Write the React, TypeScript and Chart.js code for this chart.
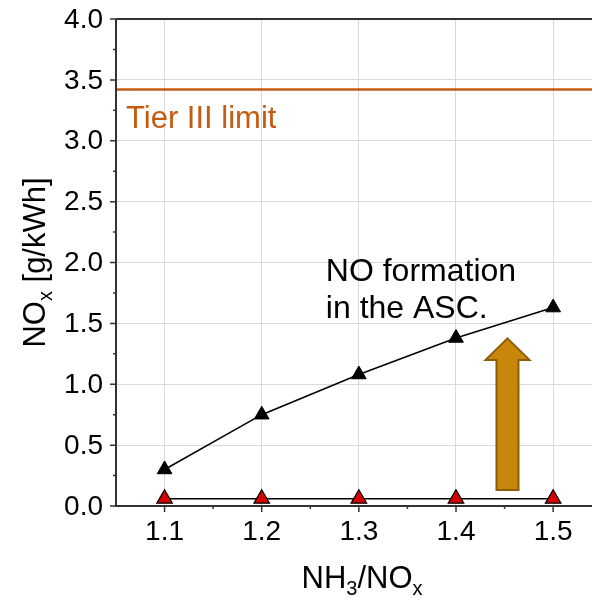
import { useEffect, useRef } from 'react';
import { Chart, registerables } from 'chart.js';

Chart.register(...registerables);

// ---- data ----
const xValues = [1.1, 1.2, 1.3, 1.4, 1.5];
const noFormation = [0.3, 0.75, 1.08, 1.38, 1.63];
const baseLevel = [0.06, 0.06, 0.06, 0.06, 0.06];
const tierIIILimit = 3.42;
const xRange = [1.05, 1.54];
const yRange = [0, 4];
const xMajorTicks = [1.1, 1.2, 1.3, 1.4, 1.5];
const xMinorTicks = [1.15, 1.25, 1.35, 1.45];
const yMajorTicks = [0, 0.5, 1, 1.5, 2, 2.5, 3, 3.5, 4];
const yMinorTicks = [0.25, 0.75, 1.25, 1.75, 2.25, 2.75, 3.25, 3.75];
const xTickLabels = ['1.1', '1.2', '1.3', '1.4', '1.5'];
const yTickLabels = ['0.0', '0.5', '1.0', '1.5', '2.0', '2.5', '3.0', '3.5', '4.0'];

const tierLabel = 'Tier III limit';
const noteLines = ['NO formation', 'in the ASC.'];
const notePos = { x: 1.266, y: 1.85 };
const arrowPos = { x: 1.453, yTip: 1.377, yHeadBase: 1.2, yBottom: 0.131 };
const xTitle: [string, boolean][] = [['NH', false], ['3', true], ['/NO', false], ['x', true]];
const yTitle: [string, boolean][] = [['NO', false], ['x', true], [' [g/kWh]', false]];

const FONT = "'Liberation Sans', Arial, sans-serif";
const TIER_COLOR = '#C55A11';

function drawRich(ctx: CanvasRenderingContext2D, parts: [string, boolean][], size: number) {
  const subSize = Math.round(size * 0.66);
  let total = 0;
  const widths = parts.map(([t, sub]) => {
    ctx.font = `${sub ? subSize : size}px ${FONT}`;
    const w = ctx.measureText(t).width;
    total += w;
    return w;
  });
  let x = -total / 2;
  parts.forEach(([t, sub], i) => {
    ctx.font = `${sub ? subSize : size}px ${FONT}`;
    ctx.fillText(t, x, sub ? size * 0.24 : 0);
    x += widths[i];
  });
}

const customPlugin = {
  id: 'custom',
  afterDraw(chart: any) {
    const { ctx, chartArea, scales } = chart;
    const xs = scales.x;
    const ys = scales.y;
    ctx.save();
    // axis lines
    ctx.strokeStyle = '#333';
    ctx.lineWidth = 2;
    ctx.beginPath();
    ctx.moveTo(chartArea.left, chartArea.top);
    ctx.lineTo(chartArea.left, chartArea.bottom);
    ctx.lineTo(chartArea.right, chartArea.bottom);
    ctx.moveTo(chartArea.left, chartArea.top);
    ctx.lineTo(chartArea.right, chartArea.top);
    ctx.stroke();
    // ticks
    ctx.lineWidth = 1.5;
    ctx.beginPath();
    yMajorTicks.forEach((v) => {
      const y = ys.getPixelForValue(v);
      ctx.moveTo(chartArea.left - 6, y);
      ctx.lineTo(chartArea.left, y);
    });
    yMinorTicks.forEach((v) => {
      const y = ys.getPixelForValue(v);
      ctx.moveTo(chartArea.left - 3, y);
      ctx.lineTo(chartArea.left, y);
    });
    xMajorTicks.forEach((v) => {
      const x = xs.getPixelForValue(v);
      ctx.moveTo(x, chartArea.bottom);
      ctx.lineTo(x, chartArea.bottom + 6);
    });
    xMinorTicks.forEach((v) => {
      const x = xs.getPixelForValue(v);
      ctx.moveTo(x, chartArea.bottom);
      ctx.lineTo(x, chartArea.bottom + 3);
    });
    ctx.stroke();

    // tick labels
    ctx.fillStyle = '#000';
    ctx.font = `28px ${FONT}`;
    ctx.textBaseline = 'middle';
    ctx.textAlign = 'right';
    yMajorTicks.forEach((v, i) => {
      ctx.fillText(yTickLabels[i], chartArea.left - 13, ys.getPixelForValue(v) + 1);
    });
    ctx.textAlign = 'center';
    xMajorTicks.forEach((v, i) => {
      ctx.fillText(xTickLabels[i], xs.getPixelForValue(v), chartArea.bottom + 26);
    });

    // tier label
    ctx.fillStyle = TIER_COLOR;
    ctx.font = `31px ${FONT}`;
    ctx.textAlign = 'left';
    ctx.textBaseline = 'alphabetic';
    ctx.fillText(tierLabel, chartArea.left + 10, ys.getPixelForValue(tierIIILimit) + 38);

    // note
    ctx.fillStyle = '#000';
    ctx.font = `32px ${FONT}`;
    const nx = xs.getPixelForValue(notePos.x);
    const ny = ys.getPixelForValue(notePos.y);
    noteLines.forEach((l, i) => ctx.fillText(l, nx, ny + i * 37));

    // arrow
    const ax = xs.getPixelForValue(arrowPos.x);
    const tip = ys.getPixelForValue(arrowPos.yTip);
    const hb = ys.getPixelForValue(arrowPos.yHeadBase);
    const bot = ys.getPixelForValue(arrowPos.yBottom);
    const sw = 11;
    const hw = 22;
    ctx.beginPath();
    ctx.moveTo(ax, tip);
    ctx.lineTo(ax + hw, hb);
    ctx.lineTo(ax + sw, hb);
    ctx.lineTo(ax + sw, bot);
    ctx.lineTo(ax - sw, bot);
    ctx.lineTo(ax - sw, hb);
    ctx.lineTo(ax - hw, hb);
    ctx.closePath();
    ctx.fillStyle = '#C8860A';
    ctx.fill();
    ctx.strokeStyle = '#8C5E08';
    ctx.lineWidth = 2;
    ctx.stroke();

    // axis titles
    ctx.fillStyle = '#000';
    ctx.textAlign = 'left';
    ctx.textBaseline = 'alphabetic';
    ctx.save();
    ctx.translate((chartArea.left + chartArea.right) / 2 + 8, 588);
    drawRich(ctx, xTitle, 31);
    ctx.restore();
    ctx.save();
    ctx.translate(45, (chartArea.top + chartArea.bottom) / 2);
    ctx.rotate(-Math.PI / 2);
    drawRich(ctx, yTitle, 31);
    ctx.restore();
    ctx.restore();
  },
};

export default function App() {
  const ref = useRef<HTMLCanvasElement>(null);
  useEffect(() => {
    document.body.style.margin = '0';
    const canvas = ref.current!;
    const chart = new Chart(canvas, {
      type: 'line',
      data: {
        datasets: [
          {
            data: [
              { x: xRange[0], y: tierIIILimit },
              { x: xRange[1], y: tierIIILimit },
            ],
            borderColor: TIER_COLOR,
            borderWidth: 2.5,
            pointRadius: 0,
          },
          {
            data: xValues.map((x, i) => ({ x, y: noFormation[i] })),
            borderColor: '#000',
            borderWidth: 1.5,
            pointStyle: 'triangle',
            pointRadius: 8.5,
            pointBackgroundColor: '#000',
            pointBorderColor: '#000',
            pointBorderWidth: 1,
          },
          {
            data: xValues.map((x, i) => ({ x, y: baseLevel[i] })),
            borderColor: '#000',
            borderWidth: 1.5,
            pointStyle: 'triangle',
            pointRadius: 9,
            pointBackgroundColor: '#D40000',
            pointBorderColor: '#000',
            pointBorderWidth: 1.2,
          },
        ],
      } as any,
      options: {
        animation: false,
        responsive: false,
        devicePixelRatio: 1,
        layout: { autoPadding: false, padding: { top: 19, right: 0, left: 0, bottom: 0 } },
        plugins: { legend: { display: false }, tooltip: { enabled: false } },
        elements: { line: { tension: 0 } },
        scales: {
          x: {
            type: 'linear',
            min: xRange[0],
            max: xRange[1],
            afterBuildTicks: (s: any) => {
              s.ticks = xMajorTicks.map((v) => ({ value: v }));
            },
            afterFit: (s: any) => {
              s.height = 92;
              s.paddingLeft = 0;
              s.paddingRight = 0;
            },
            ticks: { display: false },
            grid: { color: '#d9d9d9', drawTicks: false, lineWidth: 1 },
            border: { display: false },
          },
          y: {
            type: 'linear',
            min: yRange[0],
            max: yRange[1],
            afterBuildTicks: (s: any) => {
              s.ticks = yMajorTicks.map((v) => ({ value: v }));
            },
            afterFit: (s: any) => {
              s.width = 116;
              s.paddingTop = 0;
              s.paddingBottom = 0;
            },
            ticks: { display: false },
            grid: { color: '#d9d9d9', drawTicks: false, lineWidth: 1 },
            border: { display: false },
          },
        },
      } as any,
      plugins: [customPlugin],
    });
    return () => chart.destroy();
  }, []);
  return (
    <div style={{ width: 592, height: 598, background: '#fff' }}>
      <canvas ref={ref} width={592} height={598} style={{ display: 'block' }} />
    </div>
  );
}
